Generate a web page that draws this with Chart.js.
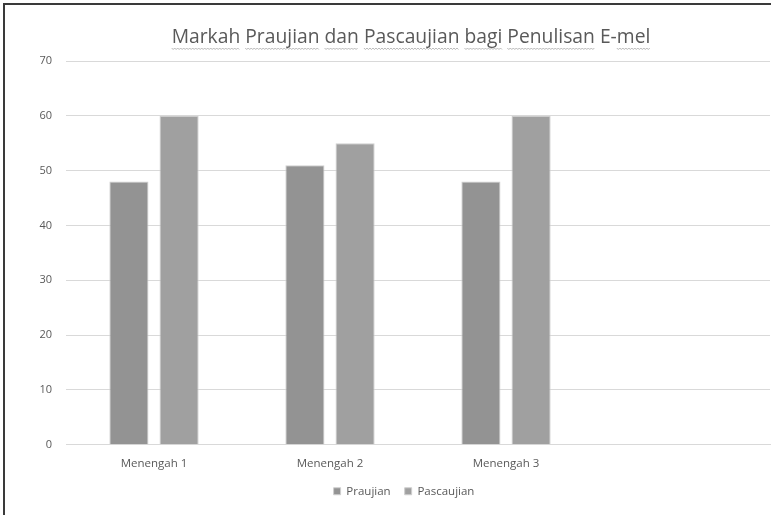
<!DOCTYPE html>
<html>
<head>
<meta charset="utf-8">
<script src="https://cdn.jsdelivr.net/npm/chart.js@4/dist/chart.umd.min.js"></script>
<style>
    body { margin: 0; background: #fff; }
    #wrap { position: absolute; left: 0; top: 0; width: 771px; height: 515px; }
    #frame { position: absolute; left: 3px; top: 3px; width: 768px; height: 512px;
             border-left: 2px solid #3a3a3a; border-top: 2px solid #3a3a3a; box-sizing: border-box; }
    canvas { position: absolute; left: 0; top: 0; }
</style>
</head>
<body>
<div id="wrap">
    <div id="frame"></div>
    <canvas id="chart" width="771" height="515"></canvas>
</div>
<script>
const titleText = "Markah Praujian dan Pascaujian bagi Penulisan E-mel";
const categories = ["Menengah 1", "Menengah 2", "Menengah 3", ""];
const praujian = [48, 51, 48];
const pascaujian = [60, 55, 60];
const yMax = 70;
const yStep = 10;

const textColor = "#595959";
const fontFamily = "'Open Sans', 'Noto Sans', sans-serif";

// title with the spell-check squiggles under each word
const titlePlugin = {
    id: "squiggleTitle",
    afterDraw(chart) {
        const ctx = chart.ctx;
        const cx = 411, baseY = 43;
        ctx.save();
        ctx.font = "19.3px " + fontFamily;
        ctx.fillStyle = textColor;
        ctx.textBaseline = "alphabetic";
        ctx.textAlign = "left";
        const total = ctx.measureText(titleText).width;
        const x0 = cx - total / 2;
        ctx.fillText(titleText, x0, baseY);

        ctx.strokeStyle = "#a6a6a6";
        ctx.lineWidth = 0.8;
        let pos = 0;
        for (const word of titleText.split(" ")) {
            const start = titleText.indexOf(word, pos);
            pos = start + word.length;
            let from = start;
            if (word.startsWith("E-")) from = start + 2;
            const xa = x0 + ctx.measureText(titleText.slice(0, from)).width;
            const xb = x0 + ctx.measureText(titleText.slice(0, pos)).width;
            ctx.beginPath();
            let up = true;
            for (let x = xa; x <= xb; x += 1.5) {
                const y = baseY + 5 + (up ? 0 : 1.5);
                if (x === xa) ctx.moveTo(x, y); else ctx.lineTo(x, y);
                up = !up;
            }
            ctx.stroke();
        }
        ctx.restore();
    },
};

new Chart(document.getElementById("chart"), {
    type: "bar",
    data: {
        labels: categories,
        datasets: [
            {
                label: "Praujian",
                data: praujian,
                backgroundColor: "#939393",
                borderColor: "#cfcfcf",
                borderWidth: 1,
            },
            {
                label: "Pascaujian",
                data: pascaujian,
                backgroundColor: "#a0a0a0",
                borderColor: "#cfcfcf",
                borderWidth: 1,
            },
        ],
    },
    options: {
        responsive: false,
        animation: false,
        devicePixelRatio: 1,
        categoryPercentage: 0.57,
        barPercentage: 0.78,
        layout: { padding: { top: 61, left: 38, right: 1, bottom: 8 } },
        plugins: {
            title: { display: false },
            tooltip: { enabled: false },
            legend: {
                position: "bottom",
                labels: {
                    color: textColor,
                    font: { family: fontFamily, size: 11.5 },
                    boxWidth: 7,
                    boxHeight: 7,
                    padding: 14,
                },
            },
        },
        scales: {
            x: {
                grid: { display: false, drawTicks: false },
                border: { color: "#d9d9d9", width: 1 },
                afterFit: (scale) => { scale.height -= 11; },
                ticks: {
                    color: textColor,
                    font: { family: fontFamily, size: 11.5 },
                    padding: 12,
                    maxRotation: 0,
                },
            },
            y: {
                min: 0,
                max: yMax,
                afterFit: (scale) => { scale.width = 28; },
                grid: { color: "#d9d9d9", drawTicks: false },
                border: { display: false },
                ticks: {
                    stepSize: yStep,
                    color: textColor,
                    font: { family: fontFamily, size: 11 },
                    padding: 14,
                },
            },
        },
    },
    plugins: [titlePlugin],
});
</script>
</body>
</html>
